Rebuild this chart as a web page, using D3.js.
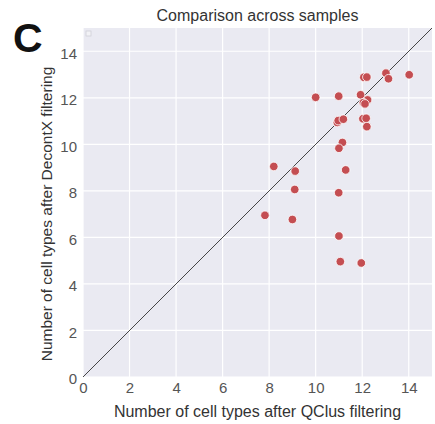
<!DOCTYPE html>
<html>
<head>
<meta charset="utf-8">
<script src="https://cdn.jsdelivr.net/npm/d3@7"></script>
<style>
  body { margin: 0; background: #fff; font-family: "Liberation Sans", Arial, sans-serif; }
  .tick text { fill: #555; font-size: 15px; }
</style>
</head>
<body>
<div id="chart"></div>
<script>
// values: cell types per sample
var qclusCounts = [8.2, 9.12, 9.1, 7.82, 9.0, 10.0, 10.99, 11.93, 12.07, 12.2, 13.02, 13.13, 14.02,
    12.23, 12.05, 12.12, 10.93, 10.97, 11.19, 12.03, 12.17, 12.2, 11.15, 11.0, 11.29, 10.99, 11.0, 11.06, 11.96];
var decontxCounts = [9.05, 8.85, 8.06, 6.95, 6.77, 12.02, 12.07, 12.13, 12.88, 12.89, 13.06, 12.82, 12.99,
    11.91, 11.79, 11.74, 10.94, 11.02, 11.08, 11.1, 11.12, 10.76, 10.08, 9.83, 8.9, 7.92, 6.06, 4.96, 4.9];
var tickValues = [0, 2, 4, 6, 8, 10, 12, 14];
var axisMax = 15;

var margin = { top: 28, right: 3, bottom: 47, left: 83 };
var width = 435 - margin.left - margin.right,
    height = 424 - margin.top - margin.bottom;

var svg = d3.select("#chart").append("svg")
    .attr("width", 435)
    .attr("height", 424);

var g = svg.append("g")
    .attr("transform", "translate(" + margin.left + "," + margin.top + ")");

var x = d3.scaleLinear().domain([0, axisMax]).range([0, width]);
var y = d3.scaleLinear().domain([0, axisMax]).range([height, 0]);

// seaborn darkgrid background
g.append("rect")
    .attr("width", width)
    .attr("height", height)
    .attr("fill", "#eaeaf2");

// grid lines
g.append("g")
    .selectAll("line")
    .data(tickValues)
    .enter().append("line")
    .attr("x1", function(d) { return x(d); })
    .attr("x2", function(d) { return x(d); })
    .attr("y1", 0)
    .attr("y2", height)
    .attr("stroke", "#fff")
    .attr("stroke-width", 1.2);

g.append("g")
    .selectAll("line")
    .data(tickValues)
    .enter().append("line")
    .attr("y1", function(d) { return y(d); })
    .attr("y2", function(d) { return y(d); })
    .attr("x1", 0)
    .attr("x2", width)
    .attr("stroke", "#fff")
    .attr("stroke-width", 1.2);

// axes (no tick marks, no domain line)
var xAxis = g.append("g")
    .attr("transform", "translate(0," + height + ")")
    .call(d3.axisBottom(x).tickValues(tickValues).tickSize(0).tickPadding(5));
xAxis.select(".domain").remove();
xAxis.selectAll("text").attr("font-family", "Liberation Sans, Arial, sans-serif");

var yAxis = g.append("g")
    .call(d3.axisLeft(y).tickValues(tickValues).tickSize(0).tickPadding(6));
yAxis.select(".domain").remove();
yAxis.selectAll("text")
    .attr("font-family", "Liberation Sans, Arial, sans-serif")
    .attr("dy", "0.45em");

// empty legend box
g.append("rect")
    .attr("x", 3)
    .attr("y", 3)
    .attr("width", 5)
    .attr("height", 5)
    .attr("fill", "#f2f2f6")
    .attr("stroke", "#d0d0d8")
    .attr("stroke-width", 0.8);

// identity line
g.append("line")
    .attr("x1", x(0))
    .attr("y1", y(0))
    .attr("x2", x(axisMax))
    .attr("y2", y(axisMax))
    .attr("stroke", "#333")
    .attr("stroke-width", 0.9);

// points
var pts = qclusCounts.map(function(d, i) { return [d, decontxCounts[i]]; });
g.append("g")
    .selectAll("circle")
    .data(pts)
    .enter().append("circle")
    .attr("cx", function(d) { return x(d[0]); })
    .attr("cy", function(d) { return y(d[1]); })
    .attr("r", 4.3)
    .attr("fill", "#c44e52")
    .attr("stroke", "#fff")
    .attr("stroke-width", 0.8);

// labels
svg.append("text")
    .attr("x", margin.left + width / 2)
    .attr("y", 21)
    .attr("text-anchor", "middle")
    .attr("font-size", 16)
    .attr("fill", "#333")
    .text("Comparison across samples");

svg.append("text")
    .attr("x", margin.left + width / 2)
    .attr("y", 417)
    .attr("text-anchor", "middle")
    .attr("font-size", 16)
    .attr("fill", "#333")
    .text("Number of cell types after QClus filtering");

svg.append("text")
    .attr("transform", "translate(52,214) rotate(-90)")
    .attr("text-anchor", "middle")
    .attr("font-size", 15.5)
    .attr("fill", "#333")
    .text("Number of cell types after DecontX filtering");

svg.append("text")
    .attr("x", 13)
    .attr("y", 52)
    .attr("font-size", 41)
    .attr("font-weight", "bold")
    .attr("fill", "#111")
    .text("C");
</script>
</body>
</html>
